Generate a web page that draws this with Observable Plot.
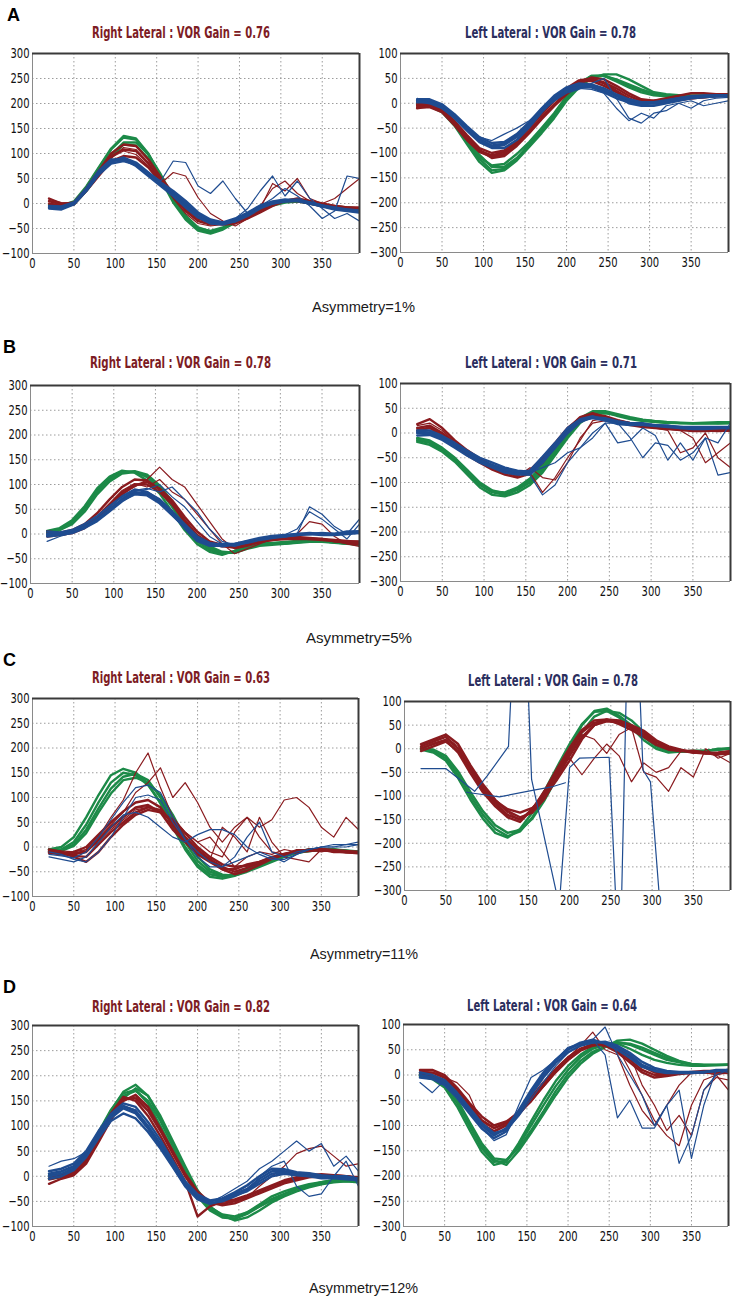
<!DOCTYPE html>
<html>
<head>
<meta charset="utf-8">
<script src="https://cdn.jsdelivr.net/npm/d3@7"></script>
<script src="https://cdn.jsdelivr.net/npm/@observablehq/plot@0.6"></script>
<style>
  body { margin: 0; background: #fff; }
  #fig { position: relative; width: 735px; height: 1299px; overflow: hidden; background: #fff; }
  #fig svg { position: absolute; overflow: visible; }
  .txt { position: absolute; white-space: nowrap; line-height: 1; transform-origin: 0 0; }
  .letter { font-family: "Liberation Sans", Arial, sans-serif; font-weight: bold; color: #000; }
  .title { font-family: "Liberation Sans Narrow", "DejaVu Sans Condensed", sans-serif; font-weight: bold; }
  .asym { font-family: "Liberation Sans", Arial, sans-serif; color: #1a1a1a; }
</style>
</head>
<body>
<div id="fig"></div>
<script>
// Head-impulse velocity traces (deg/s) sampled every 15 ms
const sampleMs = [20,35,50,65,80,95,110,125,140,155,170,185,200,215,230,245,260,275,290,305,320,335,350,365,380,395];

const xTicks = [0,50,100,150,200,250,300,350];
const rightLateralTicks = [-100,-50,0,50,100,150,200,250,300];
const leftLateralTicks = [-300,-250,-200,-150,-100,-50,0,50,100];

const panelLetters = ["A","B","C","D"];
const rightTitles = ["Right Lateral : VOR Gain = 0.76","Right Lateral : VOR Gain = 0.78","Right Lateral : VOR Gain = 0.63","Right Lateral : VOR Gain = 0.82"];
const leftTitles = ["Left Lateral : VOR Gain = 0.78","Left Lateral : VOR Gain = 0.71","Left Lateral : VOR Gain = 0.78","Left Lateral : VOR Gain = 0.64"];
const asymmetryLabels = ["Asymmetry=1%","Asymmetry=5%","Asymmetry=11%","Asymmetry=12%"];

// ---- A ----
const aRightGreen = [
  [-5,-8,0,32,70,108,132,128,98,52,5,-30,-52,-58,-50,-36,-22,-10,-2,4,5,0,-5,-8,-10,-12],
  [-3,-5,2,28,62,98,122,122,98,58,12,-24,-48,-56,-50,-38,-24,-12,-4,2,4,2,-3,-6,-8,-10],
  [-8,-6,-2,25,58,92,118,116,90,48,2,-32,-54,-60,-52,-38,-22,-10,0,5,6,2,-4,-8,-12,-14],
  [-2,-4,4,34,72,110,135,130,100,54,6,-28,-50,-55,-48,-34,-20,-8,0,6,8,3,-2,-6,-9,-11]
];
const aRightRed = [
  [10,0,0,28,62,95,108,105,80,45,15,-15,-35,-42,-40,-34,-22,-10,0,5,5,0,-5,-8,-10,-10],
  [5,-2,2,30,65,100,118,115,88,52,20,-10,-30,-38,-40,-38,-28,-15,-2,6,8,3,-2,-5,-8,-8],
  [0,-5,-2,25,55,85,95,92,72,42,18,-8,-28,-38,-42,-40,-30,-18,-5,5,10,5,0,-5,-8,-10],
  [5,0,2,28,60,92,105,98,75,40,62,55,12,-20,-35,-45,-30,-10,40,25,50,10,0,-5,-8,-10],
  [8,2,0,26,58,90,112,108,82,45,10,-20,-40,-45,-42,-38,-30,-5,30,45,20,5,0,10,30,50]
];
const aRightBlue = [
  [-8,-10,0,28,62,85,90,80,60,38,18,-5,-25,-38,-40,-32,-20,-5,2,5,5,0,-5,-10,-12,-15],
  [-5,-6,2,30,65,88,88,75,55,35,15,-8,-28,-40,-42,-35,-22,-8,0,6,8,2,-4,-10,-14,-16],
  [-10,-12,-2,25,58,80,85,78,58,40,22,0,-20,-35,-38,-30,-18,-4,4,8,6,0,-6,-12,-15,-18],
  [-6,-8,0,26,60,84,92,82,62,42,25,5,-18,-32,-38,-36,-25,-10,0,4,6,2,-4,-8,-12,-14],
  [-5,-8,0,28,62,86,88,78,62,45,85,82,35,20,45,10,-20,-5,10,30,15,-5,-30,-15,55,50],
  [-8,-10,-2,26,60,84,86,76,58,40,20,-2,-22,-36,-38,-30,-10,25,55,15,45,10,-10,-30,-20,-35]
];
const aLeftGreen = [
  [0,-5,-15,-42,-78,-112,-135,-132,-112,-82,-52,-22,12,38,55,56,46,36,26,18,15,15,15,15,15,16],
  [2,-2,-12,-36,-70,-104,-128,-128,-110,-84,-56,-26,8,34,52,55,48,38,28,20,16,15,14,15,16,16],
  [-2,-6,-18,-45,-82,-118,-140,-135,-115,-88,-60,-30,5,32,50,58,58,48,35,22,18,16,15,14,15,15],
  [0,-4,-14,-40,-75,-108,-125,-122,-102,-78,-50,-20,14,40,55,55,44,32,22,16,14,13,14,15,15,16]
];
const aLeftRed = [
  [-5,-5,-15,-40,-70,-95,-105,-98,-78,-50,-22,5,28,44,45,35,22,8,2,5,8,10,12,14,15,15],
  [-8,-8,-18,-44,-74,-98,-108,-102,-82,-56,-28,-2,22,42,48,40,25,10,0,2,5,8,10,12,14,16],
  [-2,-2,-12,-36,-64,-90,-100,-95,-75,-48,-20,8,30,46,50,42,30,15,5,0,2,6,10,12,15,18],
  [-10,-6,-16,-38,-68,-94,-110,-106,-86,-60,-32,-6,18,38,52,48,35,20,8,5,10,15,20,20,18,18]
];
const aLeftBlue = [
  [5,5,-5,-25,-50,-72,-85,-82,-65,-40,-12,12,30,38,36,25,15,5,0,0,5,10,12,15,15,15],
  [8,8,-2,-22,-46,-68,-80,-78,-62,-38,-10,15,32,40,38,30,18,8,2,2,6,10,14,15,16,16],
  [2,2,-8,-30,-55,-78,-90,-90,-74,-48,-18,8,26,34,35,28,15,0,-5,-5,0,5,10,12,14,14],
  [5,0,-10,-28,-52,-74,-88,-84,-68,-44,-16,6,24,32,32,22,10,2,-2,0,4,8,12,14,14,15],
  [10,5,-5,-25,-48,-68,-75,-62,-50,-35,-15,5,20,28,40,50,10,-30,-40,-20,-15,0,5,-5,0,5],
  [5,2,-8,-28,-52,-75,-85,-80,-62,-38,-14,4,22,30,28,20,-10,-35,-20,-30,-5,0,-10,5,10,12]
];

// ---- B ----
const bRightGreen = [
  [5,10,25,52,88,112,126,126,115,90,55,15,-15,-32,-40,-35,-25,-20,-20,-18,-15,-15,-16,-18,-20,-20],
  [2,8,20,45,80,106,122,125,118,95,62,22,-10,-28,-38,-38,-28,-22,-20,-20,-18,-16,-15,-16,-18,-20],
  [6,12,28,56,92,116,128,124,108,82,45,8,-20,-36,-42,-34,-24,-18,-18,-16,-14,-14,-15,-17,-19,-22],
  [4,8,22,48,84,110,124,127,120,98,66,28,-5,-25,-36,-38,-30,-24,-22,-20,-17,-15,-15,-17,-20,-22]
];
const bRightRed = [
  [0,0,5,15,35,60,85,100,100,85,60,25,-5,-20,-25,-25,-20,-15,-10,-10,-10,-10,-10,-15,-15,-15],
  [-5,-2,2,12,30,55,80,98,105,92,68,35,5,-15,-22,-24,-20,-15,-12,-10,-8,-10,-12,-14,-18,-20],
  [5,2,8,20,42,70,95,110,108,90,62,28,-2,-18,-24,-28,-22,-16,-12,-8,-6,-8,-10,-12,-14,-16],
  [0,0,4,14,32,58,82,95,110,135,110,95,60,25,-10,-30,-25,-18,-12,-10,-10,-8,-10,-15,-20,-22],
  [-3,0,5,16,36,62,88,102,95,110,85,70,40,10,-20,-40,-30,-20,-10,-8,0,25,20,-5,-20,-25]
];
const bRightBlue = [
  [0,0,5,15,30,50,70,85,80,65,40,15,-10,-20,-20,-20,-15,-10,-5,-5,0,0,0,0,5,5],
  [-5,-2,2,12,26,46,66,82,84,70,46,20,-5,-18,-22,-22,-16,-10,-6,-4,-2,0,2,0,2,4],
  [5,3,8,20,36,56,76,90,85,68,42,12,-14,-24,-24,-20,-14,-8,-4,-2,0,2,0,0,3,6],
  [-2,0,4,14,28,48,68,80,78,62,38,14,-8,-20,-25,-22,-18,-12,-8,-5,-2,0,-2,-2,0,2],
  [-15,-5,2,14,30,50,72,86,90,100,75,55,25,-5,-20,-25,-18,-12,-8,-5,0,55,40,15,0,30],
  [0,0,5,15,30,50,72,88,92,85,95,70,45,10,-15,-22,-15,-10,-6,-2,10,45,30,10,-10,20]
];
const bLeftGreen = [
  [-15,-20,-35,-55,-80,-105,-120,-125,-115,-100,-75,-40,-5,25,40,42,36,30,26,24,22,20,20,20,20,20],
  [-10,-15,-30,-50,-75,-100,-116,-122,-112,-96,-70,-35,0,28,42,42,34,28,24,22,20,20,19,19,20,20],
  [-18,-24,-38,-58,-84,-110,-125,-128,-120,-105,-80,-45,-10,20,38,40,36,30,26,23,21,20,20,21,22,22],
  [-12,-18,-32,-52,-76,-102,-118,-120,-110,-92,-65,-30,5,30,44,44,38,32,27,24,22,21,20,20,19,20]
];
const bLeftRed = [
  [10,15,0,-20,-40,-55,-70,-80,-85,-75,-50,-20,10,30,35,30,25,20,15,15,10,10,5,5,5,5],
  [18,28,10,-15,-35,-52,-66,-76,-82,-78,-58,-28,5,28,38,34,26,20,16,14,10,8,6,5,4,5],
  [5,10,-5,-25,-45,-60,-74,-84,-90,-82,-60,-25,8,32,40,32,22,16,12,10,8,6,4,4,5,6],
  [8,12,-2,-20,-42,-58,-70,-80,-88,-70,-90,-95,-60,-10,20,25,22,18,15,10,8,5,-10,-60,-40,-20],
  [15,20,5,-18,-38,-54,-68,-78,-84,-80,-120,-90,-50,-15,25,30,25,20,18,10,5,-40,-30,0,-50,-70]
];
const bLeftBlue = [
  [0,0,-10,-25,-40,-55,-65,-75,-80,-80,-55,-25,5,25,30,25,20,20,20,15,15,10,10,10,10,10],
  [5,5,-6,-20,-36,-50,-60,-70,-76,-78,-58,-30,0,22,32,28,22,20,18,16,14,12,10,10,10,10],
  [-5,-4,-14,-30,-46,-60,-70,-80,-84,-84,-60,-28,2,24,32,30,24,20,18,16,14,12,12,12,12,12],
  [2,0,-10,-24,-40,-56,-66,-74,-78,-76,-48,-20,10,28,34,26,18,16,16,14,12,10,8,8,10,12],
  [2,2,-8,-22,-38,-54,-64,-72,-80,-85,-125,-105,-60,-30,-10,20,20,-10,-50,-20,-25,-55,-40,-10,-85,-80],
  [0,5,-8,-25,-42,-58,-68,-78,-82,-80,-70,-60,-40,-30,0,20,-20,-15,10,-5,-55,-20,-55,-10,-20,20]
];

// ---- C ----
const cRightGreen = [
  [-5,-5,10,45,90,130,150,145,125,90,45,0,-35,-55,-60,-55,-45,-35,-25,-15,-10,-5,-5,-5,-10,-10],
  [-8,-6,5,35,78,118,142,148,135,100,55,10,-28,-50,-58,-56,-48,-38,-28,-18,-12,-8,-6,-6,-8,-10],
  [-5,0,20,60,105,145,158,150,128,88,40,-5,-40,-60,-64,-58,-48,-36,-26,-16,-10,-6,-4,-5,-8,-12],
  [-10,-8,2,28,70,108,135,140,130,105,65,18,-20,-45,-56,-58,-50,-40,-30,-20,-12,-8,-6,-5,-7,-9]
];
const cRightRed = [
  [-10,-15,-15,-10,15,40,60,80,85,70,35,10,-15,-30,-45,-45,-35,-30,-20,-15,-10,-5,-5,-10,-10,-10],
  [-5,-10,-18,-20,5,30,50,70,80,75,50,20,-5,-25,-40,-50,-42,-32,-22,-14,-8,-6,-6,-8,-10,-12],
  [-12,-14,-10,0,25,50,72,90,95,80,45,15,-10,-28,-45,-55,-48,-36,-24,-16,-10,-8,-6,-8,-10,-10],
  [-8,-12,-20,-30,-10,20,45,65,75,70,55,28,0,-20,-35,-40,-38,-30,-22,-14,-10,-6,-4,-6,-8,-10],
  [-5,-8,-10,-5,20,60,95,150,190,120,60,30,10,20,-10,-40,-20,-10,-15,-5,-10,-5,-5,-10,-10,-10],
  [-10,-10,-15,-5,20,45,70,110,130,160,100,130,90,40,10,40,60,20,-10,-15,-5,-5,-10,-5,-10,-10],
  [-10,-12,-14,-8,10,35,55,75,80,70,50,30,10,-10,-20,30,60,40,55,95,100,80,40,20,60,35],
  [-8,-10,-12,-8,15,42,62,78,82,72,40,12,-12,-25,40,20,-10,60,10,-20,-25,-30,-5,-10,-12,-14]
];
const cRightBlue = [
  [-20,-25,-30,-20,10,40,65,70,60,40,20,10,25,35,35,25,0,-15,-25,-25,-15,-5,0,0,5,5],
  [-15,-18,-22,-10,20,55,90,120,125,110,60,15,-20,-40,-40,-30,-20,-10,-20,-30,-15,-5,0,5,5,10],
  [-10,-15,-25,-30,-10,20,60,100,105,95,50,15,-10,-30,-40,-20,20,50,-10,-20,-10,-5,0,0,0,5]
];
const cLeftGreen = [
  [0,-5,-20,-55,-100,-140,-170,-185,-175,-145,-100,-50,0,50,80,85,70,50,25,5,-5,-5,-5,-5,0,0],
  [2,-2,-15,-48,-92,-132,-162,-178,-172,-148,-108,-60,-10,35,68,80,76,60,35,10,-2,-6,-6,-4,-2,0],
  [-2,-8,-25,-62,-108,-148,-178,-188,-170,-135,-88,-38,10,52,78,80,66,45,18,0,-8,-6,-4,-4,-2,2]
];
const cLeftRed = [
  [5,15,25,0,-45,-85,-115,-140,-150,-130,-95,-50,-5,35,55,60,55,45,30,10,0,-5,-5,-10,-10,-5],
  [10,20,30,10,-35,-75,-108,-132,-145,-135,-105,-60,-15,25,50,58,56,48,35,15,2,-4,-6,-8,-10,-8],
  [0,10,18,-8,-52,-92,-122,-145,-155,-128,-88,-42,2,40,60,62,52,40,25,8,-2,-5,-4,-8,-12,-10],
  [-5,5,15,-5,-40,-80,-110,-128,-135,-125,-100,-65,-25,20,50,62,60,50,38,18,5,-2,-8,-10,-8,-5],
  [8,18,25,5,-40,-82,-112,-135,-150,-125,-90,-45,-20,-55,-20,10,-15,-70,-30,-50,-40,-5,-10,-10,-15,-30],
  [2,12,20,0,-45,-88,-118,-142,-148,-132,-98,-55,-10,30,20,-10,30,45,-50,-60,-90,-40,-60,0,-20,-10]
];
// artefact sweeps recorded at irregular times: [ms, deg/s]
const cLeftBlueSweeps = [
  [[20,-42],[50,-42],[85,-90],[100,-58],[126,5],[134,300]],
  [[146,300],[154,-65],[186,-320]],
  [[75,-92],[115,-102],[155,-88],[180,-80],[195,-72]],
  [[188,-320],[200,-40],[212,-20],[248,-18],[256,-320]],
  [[263,-320],[271,300]],
  [[281,300],[289,-45],[298,-70],[310,-340]]
];

// ---- D ----
const dRightGreen = [
  [0,0,10,40,80,125,160,170,150,110,60,10,-35,-65,-80,-85,-75,-60,-45,-35,-25,-20,-15,-10,-10,-10],
  [-5,-2,6,34,74,118,155,175,160,120,70,20,-28,-60,-78,-88,-82,-68,-52,-40,-30,-22,-16,-12,-10,-12],
  [2,4,15,45,88,132,165,172,145,100,50,2,-40,-68,-82,-84,-72,-56,-40,-30,-22,-16,-12,-8,-8,-10],
  [0,2,12,42,84,130,168,182,160,115,62,12,-32,-62,-76,-80,-72,-60,-48,-36,-26,-18,-12,-8,-6,-8]
];
const dRightRed = [
  [-5,0,5,30,75,120,155,155,130,90,45,0,-35,-55,-55,-50,-40,-30,-20,-10,-5,0,0,0,0,-5],
  [-15,-5,2,25,68,112,150,162,138,95,50,5,-30,-52,-58,-54,-44,-34,-24,-14,-8,-2,0,2,0,-4],
  [0,2,8,35,80,125,158,150,120,80,35,-10,-80,-60,-50,-46,-38,-28,-18,-8,-2,2,4,2,0,-2],
  [-8,-2,4,28,70,115,150,158,135,92,48,2,-34,-54,-52,-48,-42,-20,0,20,45,55,60,40,20,25]
];
const dRightBlue = [
  [5,10,20,45,85,120,140,130,100,65,25,-15,-40,-50,-45,-35,-25,-5,10,10,5,5,0,0,0,-5],
  [0,5,15,40,80,116,135,125,95,60,20,-18,-44,-54,-50,-40,-28,-10,5,8,4,2,-2,-2,-4,-6],
  [10,15,25,50,90,124,145,138,108,72,30,-10,-36,-48,-44,-32,-18,0,15,14,8,6,2,0,-2,-4],
  [-5,0,12,38,76,110,125,115,88,55,18,-20,-46,-55,-48,-38,-30,-15,0,5,2,0,-4,-4,-6,-8],
  [20,30,35,48,86,118,138,128,98,62,22,-16,-42,-52,-40,-25,-10,15,30,50,70,50,65,20,40,10],
  [2,8,18,44,82,118,140,132,100,64,24,-14,-40,-50,-46,-34,-20,0,20,30,-20,-40,-35,0,30,-20]
];
const dLeftGreen = [
  [0,-5,-20,-55,-100,-145,-172,-170,-140,-100,-60,-22,10,35,52,60,65,60,50,40,30,25,20,20,20,20],
  [2,-2,-15,-48,-92,-135,-165,-168,-145,-110,-72,-32,2,28,46,56,64,62,54,44,34,26,22,20,20,20],
  [-2,-8,-25,-62,-108,-152,-178,-172,-135,-92,-50,-12,18,40,56,62,62,52,40,30,24,20,18,18,19,20],
  [0,-4,-18,-52,-96,-140,-168,-178,-150,-115,-78,-40,-5,22,42,55,68,70,62,50,38,28,22,20,20,21]
];
const dLeftRed = [
  [5,5,-5,-30,-60,-90,-105,-95,-72,-45,-15,12,35,52,60,60,50,30,10,0,0,5,5,5,5,5],
  [10,10,0,-25,-55,-82,-100,-92,-75,-52,-22,6,30,48,58,62,55,38,18,5,2,4,6,8,8,6],
  [0,0,-10,-35,-68,-98,-112,-100,-78,-50,-18,10,34,50,62,58,45,25,5,-5,-2,2,4,5,5,4],
  [5,10,-5,-15,-40,-95,-110,-98,-76,-50,-20,10,35,58,85,50,40,-20,-70,-100,-60,-20,5,5,0,5],
  [8,5,-2,-28,-58,-88,-104,-96,-76,-50,-20,8,32,52,62,60,55,10,-40,-90,-120,-140,-60,-10,0,-30],
  [2,4,-6,-32,-62,-92,-106,-98,-78,-52,-24,4,28,48,60,62,50,40,-20,-60,-110,-80,-120,-30,-5,-10]
];
const dLeftBlue = [
  [0,-5,-15,-40,-70,-100,-120,-105,-70,-30,5,30,50,62,66,64,55,40,20,10,5,5,5,5,10,10],
  [5,0,-10,-35,-65,-95,-115,-108,-78,-40,-5,24,45,58,64,66,58,44,26,14,8,6,6,6,8,10],
  [-5,-8,-20,-45,-76,-106,-125,-112,-75,-35,0,30,52,64,70,62,50,34,16,8,4,4,4,6,8,10],
  [-15,-35,-10,-42,-72,-104,-130,-118,-60,-5,10,30,55,62,70,40,-85,-50,-105,-105,-60,-175,-120,-30,0,10],
  [0,-4,-14,-38,-68,-98,-118,-110,-82,-48,-14,18,44,58,70,95,40,0,-40,-100,-60,-30,-165,-60,10,5]
];

// ---- styling ----
const GREEN = "#1c8a48", RED = "#8a1b1f", BLUE = "#1f4c90";
const RIGHT_TITLE = "#7d1c24", LEFT_TITLE = "#2b2e5e";
const NARROW = '"Liberation Sans Narrow", "DejaVu Sans Condensed", sans-serif';
const M = {top: 8, right: 6, bottom: 24, left: 30};
const CORE_WIDTH = 2.4, STRAY_WIDTH = 1.2;

// page layout per row: frames are [x0, y0, x1, y1] of the plotting area
const layout = [
  {letter: [7, 8],    rTitle: [92, 27, 178],  lTitle: [465, 27, 171],  rFrame: [32, 53, 359, 253],   lFrame: [400, 53, 728, 252],   asym: [312, 302, 103]},
  {letter: [3, 340],  rTitle: [90, 357, 181], lTitle: [465, 357, 172], rFrame: [30, 385, 359, 583],  lFrame: [400, 383, 730, 581],  asym: [306, 633, 106]},
  {letter: [3, 653],  rTitle: [92, 672, 178], lTitle: [468, 675, 170], rFrame: [32, 698, 358, 896],  lFrame: [404, 701, 730, 890],  asym: [310, 949, 108]},
  {letter: [3, 980],  rTitle: [92, 1001, 178],lTitle: [467, 1000, 170],rFrame: [32, 1025, 358, 1226],lFrame: [403, 1024, 728, 1226],asym: [309, 1283, 109]}
];

// how many leading traces of each colour form the dense core band (the rest are stray responses)
const panelData = [
  {right: [aRightGreen, aRightRed, aRightBlue], rightCore: [4, 3, 4], left: [aLeftGreen, aLeftRed, aLeftBlue], leftCore: [4, 4, 4], leftSweeps: []},
  {right: [bRightGreen, bRightRed, bRightBlue], rightCore: [4, 3, 4], left: [bLeftGreen, bLeftRed, bLeftBlue], leftCore: [4, 3, 4], leftSweeps: []},
  {right: [cRightGreen, cRightRed, cRightBlue], rightCore: [4, 4, 0], left: [cLeftGreen, cLeftRed, []],        leftCore: [3, 4, 0], leftSweeps: cLeftBlueSweeps},
  {right: [dRightGreen, dRightRed, dRightBlue], rightCore: [4, 3, 4], left: [dLeftGreen, dLeftRed, dLeftBlue], leftCore: [4, 3, 3], leftSweeps: []}
];

const fig = document.getElementById("fig");

function gridRows(traces, tag, from, to) {
  const out = [];
  traces.slice(from, to).forEach((vals, i) => vals.forEach((v, j) => out.push({t: sampleMs[j], v, k: tag + i})));
  return out;
}
function sweepRows(sweeps, tag) {
  const out = [];
  sweeps.forEach((pts, i) => pts.forEach(([t, v]) => out.push({t, v, k: tag + i})));
  return out;
}

// width of ten digits in the tick font, used to condense the labels
function digitScale() {
  const ctx = document.createElement("canvas").getContext("2d");
  ctx.font = `14px ${NARROW}`;
  const w = ctx.measureText("0000000000").width;
  return Math.min(1, 63.5 / w);
}
const TICK_SCALE = digitScale();

function condenseTicks(svg) {
  svg.querySelectorAll('g[aria-label$="tick label"] text').forEach(t => {
    const tr = t.getAttribute("transform");
    if (tr) {
      t.setAttribute("transform", `${tr} scale(${TICK_SCALE},1)`);
    } else {
      const x = +t.getAttribute("x") || 0, y = +t.getAttribute("y") || 0;
      t.removeAttribute("x"); t.removeAttribute("y");
      t.setAttribute("transform", `translate(${x},${y}) scale(${TICK_SCALE},1)`);
    }
  });
}

function drawPanel(frame, yTicks, traceSets, core, sweeps) {
  const [x0, y0, x1, y1] = frame;
  const yMin = yTicks[0], yMax = yTicks[yTicks.length - 1];
  const lineOpts = (color, w) => ({x: "t", y: "v", z: "k", stroke: color, strokeWidth: w, clip: true, strokeLinejoin: "round"});
  const colors = [GREEN, RED, BLUE];
  const lineMarks = [];
  traceSets.forEach((set, c) => {
    lineMarks.push(Plot.line(gridRows(set, "c" + c, 0, core[c]), lineOpts(colors[c], CORE_WIDTH)));
    lineMarks.push(Plot.line(gridRows(set, "s" + c, core[c], set.length), lineOpts(colors[c], STRAY_WIDTH)));
  });
  lineMarks.push(Plot.line(sweepRows(sweeps, "w"), lineOpts(BLUE, STRAY_WIDTH)));
  const svg = Plot.plot({
    width: M.left + (x1 - x0) + M.right,
    height: M.top + (y1 - y0) + M.bottom,
    marginTop: M.top, marginRight: M.right, marginBottom: M.bottom, marginLeft: M.left,
    x: {domain: [0, 395], label: null},
    y: {domain: [yMin, yMax], label: null},
    style: {fontFamily: NARROW, fontSize: "14px", color: "#111", background: "transparent"},
    marks: [
      Plot.gridX(xTicks.slice(1), {stroke: "#9c9c9c", strokeOpacity: 1, strokeDasharray: "1.5,2.5"}),
      Plot.gridY(yTicks.slice(1, -1), {stroke: "#9c9c9c", strokeOpacity: 1, strokeDasharray: "1.5,2.5"}),
      ...lineMarks,
      Plot.ruleX([0], {stroke: "#8a8a8a"}),
      Plot.ruleY([yMin], {stroke: "#8a8a8a"}),
      Plot.ruleY([yMax], {stroke: "#3a3a3a", strokeWidth: 2}),
      Plot.ruleX([395], {stroke: "#3a3a3a", strokeWidth: 2}),
      Plot.axisX(xTicks, {tickSize: 0, tickPadding: 5, label: null, fontSize: 14}),
      Plot.axisY(yTicks, {tickSize: 0, tickPadding: 3, label: null, fontSize: 14})
    ]
  });
  condenseTicks(svg);
  svg.style.left = (x0 - M.left) + "px";
  svg.style.top = (y0 - M.top) + "px";
  fig.appendChild(svg);
}

function addText(cls, str, x, capTop, size, color, targetWidth) {
  const d = document.createElement("div");
  d.className = "txt " + cls;
  d.textContent = str;
  d.style.fontSize = size + "px";
  d.style.left = x + "px";
  d.style.top = (capTop - 0.13 * size) + "px";
  if (color) d.style.color = color;
  fig.appendChild(d);
  if (targetWidth) {
    const w = d.getBoundingClientRect().width;
    if (w > 0) d.style.transform = `scaleX(${targetWidth / w})`;
  }
}

layout.forEach((L, i) => {
  const P = panelData[i];
  drawPanel(L.rFrame, rightLateralTicks, P.right, P.rightCore, []);
  drawPanel(L.lFrame, leftLateralTicks, P.left, P.leftCore, P.leftSweeps);
  addText("letter", panelLetters[i], L.letter[0], L.letter[1], 18);
  addText("title", rightTitles[i], L.rTitle[0], L.rTitle[1], 16, RIGHT_TITLE, L.rTitle[2]);
  addText("title", leftTitles[i], L.lTitle[0], L.lTitle[1], 16, LEFT_TITLE, L.lTitle[2]);
  addText("asym", asymmetryLabels[i], L.asym[0], L.asym[1], 14, null, L.asym[2]);
});
</script>
</body>
</html>
